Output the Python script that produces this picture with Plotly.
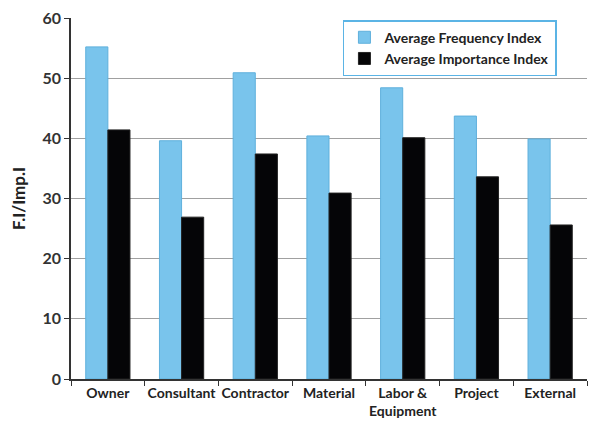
import plotly.graph_objects as go

categories = ["Owner", "Consultant", "Contractor", "Material", "Labor &<br>Equipment", "Project", "External"]
freq_index = [55.2, 39.6, 50.9, 40.4, 48.4, 43.7, 39.9]
imp_index = [41.4, 26.9, 37.4, 30.9, 40.1, 33.6, 25.6]
y_ticks = [0, 10, 20, 30, 40, 50, 60]

font_family = "Lato"
fig = go.Figure()
fig.add_trace(go.Bar(
    x=categories, y=freq_index, name="Average Frequency Index",
    marker=dict(color="#79c4ec", line=dict(color="#5fb0dc", width=1)),
))
fig.add_trace(go.Bar(
    x=categories, y=imp_index, name="Average Importance Index",
    marker=dict(color="#050507", line=dict(color="#222222", width=1)),
))

fig.update_layout(
    width=597, height=416,
    margin=dict(l=63, r=18, t=10, b=45),
    paper_bgcolor="white", plot_bgcolor="white",
    barmode="group", bargap=0.4, bargroupgap=0,
    font=dict(family=font_family, color="#333333"),
    showlegend=True,
    legend=dict(
        x=0.527, y=0.994, xanchor="left", yanchor="top",
        bgcolor="white", bordercolor="#5bb4e5", borderwidth=1.5,
        font=dict(size=14, color="#222222", family=font_family, weight="bold"),
        itemwidth=30, tracegroupgap=6,
    ),
)
fig.update_xaxes(
    showline=True, linecolor="#333333", linewidth=1.5,
    ticks="outside", tickson="boundaries", ticklen=5, tickcolor="#333333",
    tickfont=dict(size=14, family=font_family, color="#222222", weight="bold"),
    tickangle=0, automargin=False,
    showgrid=False,
)
fig.update_yaxes(
    range=[0, 60], tickvals=y_ticks, ticklabeloverflow="allow",
    showline=True, linecolor="#333333", linewidth=1.5,
    ticks="outside", ticklen=5, tickcolor="#333333",
    showgrid=True, gridcolor="#a0a0a0", gridwidth=1,
    tickfont=dict(size=16, family=font_family, color="#333333", weight="bold"),
    title=dict(text="F.I/Imp.I", font=dict(size=17, family=font_family, color="#222222", weight="bold"), standoff=14),
    zeroline=False, automargin=False,
)
fig.write_html("out.html")
